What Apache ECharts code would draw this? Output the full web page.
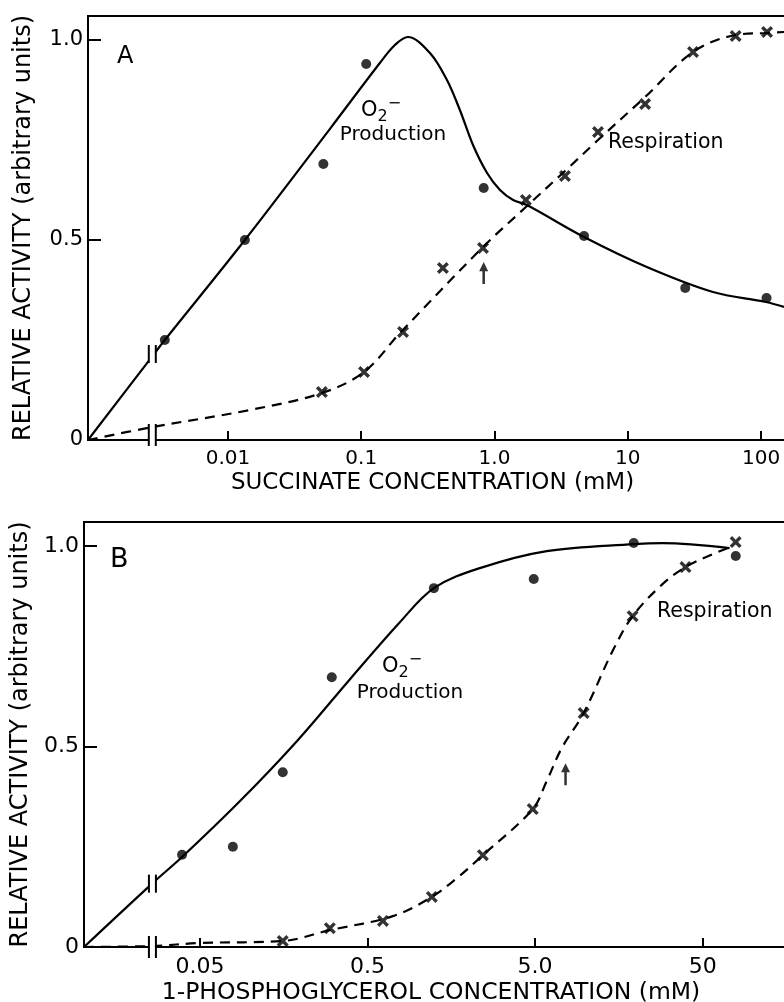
<!DOCTYPE html>
<html><head><meta charset="utf-8">
<script src="https://cdn.jsdelivr.net/npm/echarts@6/dist/echarts.min.js"></script>
<style>html,body{margin:0;padding:0;background:#fff}#c{width:784px;height:1002px}</style>
</head><body><div id="c"></div>
<script>
// ---------- Panel A: succinate (concentration in mM, activity relative) ----------
const xTicksA = [0.01, 0.1, 1, 10, 100];
const xTickLabelsA = ['0.01', '0.1', '1.0', '10', '100'];
const yTicks = [0, 0.5, 1.0];
const yTickLabels = ['0', '0.5', '1.0'];

const o2DotsA = [[0.00336,0.25],[0.0134,0.50],[0.052,0.69],[0.109,0.94],[0.83,0.63],[4.7,0.51],[27,0.38],[110,0.355]];
const o2CurveA = [[0,0],[0.00273,0.211],[0.00336,0.25],[0.0134,0.5],[0.0583,0.778],[0.138,0.9425],[0.179,0.9875],[0.224,1.0075],[0.328,0.9675],[0.44,0.90],[0.55,0.825],[0.69,0.7375],[0.88,0.6675],[1.10,0.625],[1.38,0.60],[1.75,0.5875],[4.7,0.5075],[13.9,0.4325],[43.6,0.37],[109,0.345],[149,0.3325]];
const respMarksA = [[0.0507,0.12],[0.105,0.17],[0.206,0.27],[0.41,0.43],[0.82,0.48],[1.72,0.60],[3.38,0.66],[5.98,0.77],[13.5,0.84],[30.9,0.97],[64.5,1.01],[111,1.02]];
const respCurveA = [[0,0],[0.00273,0.0325],[0.0146,0.075],[0.0507,0.1175],[0.105,0.17],[0.1955,0.2675],[0.82,0.4825],[1.72,0.5825],[3.38,0.6725],[5.98,0.75],[13.5,0.8575],[30.9,0.97],[64.5,1.0125],[111,1.0175],[149,1.02]];
const arrowsA = [[0.83,0.4175]];
const breaksA = [[0.00273,0.215],[0.00273,0.0125]];

// ---------- Panel B: 1-phosphoglycerol ----------
const xTicksB = [0.05, 0.5, 5, 50];
const xTickLabelsB = ['0.05', '0.5', '5.0', '50'];

const o2DotsB = [[0.0391,0.23],[0.0786,0.25],[0.156,0.436],[0.306,0.673],[1.245,0.895],[4.91,0.918],[19.4,1.0075],[78.8,0.975]];
const o2CurveB = [[0,0],[0.0262,0.16],[0.0391,0.2244],[0.0867,0.364],[0.19,0.514],[0.393,0.668],[0.78,0.81],[1.245,0.895],[2.34,0.945],[5.87,0.9875],[19.4,1.005],[28.8,1.0075],[72.4,0.995]];
const respMarksB = [[0.156,0.015],[0.298,0.047],[0.618,0.065],[1.21,0.125],[2.44,0.229],[4.84,0.344],[9.75,0.5835],[19.1,0.825],[39.5,0.9475],[78.7,1.01]];
const respCurveB = [[0,0],[0.0262,0.0025],[0.05,0.01],[0.156,0.015],[0.298,0.042],[0.708,0.077],[1.21,0.125],[1.71,0.172],[2.44,0.229],[4.84,0.344],[5.87,0.414],[7.21,0.496],[9.75,0.5835],[14.5,0.738],[19.1,0.825],[28.8,0.905],[39.5,0.9475],[57.4,0.98],[76,1.0]];
const arrowsB = [[7.6,0.431]];
const breaksB = [[0.0262,0.158],[0.0262,0.0]];

const yName = 'RELATIVE ACTIVITY (arbitrary units)';
const xNameA = 'SUCCINATE CONCENTRATION (mM)';
const xNameB = '1-PHOSPHOGLYCEROL CONCENTRATION (mM)';
const prodLabel = 'Production';
const respLabel = 'Respiration';

// ---------- layout ----------
const XMIN_A = -3.05, XMAX_A = 2.3, XMIN_B = -1.993, XMAX_B = 2.28;
const FONT = 'DejaVu Sans';
const XMARK = 'path://M0,2L2,0L5,3L8,0L10,2L7,5L10,8L8,10L5,7L2,10L0,8L3,5Z';
const ARROW = 'path://M5,0L10,10L6.4,10L6.4,24L3.6,24L3.6,10L0,10Z';

function lg(c, xmin) { return c === 0 ? xmin : Math.log10(c); }
const toA = arr => arr.map(d => [lg(d[0], XMIN_A), d[1]]);
const toB = arr => arr.map(d => [lg(d[0], XMIN_B), d[1]]);

function makeX(gi, min, max, ticks, labels, fs, name, nfs, gap, pad) {
  const vals = ticks.map(Math.log10);
  return {
    type: 'value', gridIndex: gi, min: min, max: max,
    axisLine: { onZero: false, lineStyle: { color: '#000', width: 2 } },
    axisTick: { inside: true, length: 9, lineStyle: { color: '#000', width: 2 }, customValues: vals },
    axisLabel: { customValues: vals, color: '#000', fontFamily: FONT, fontSize: fs, margin: 9,
      formatter: v => { const i = vals.findIndex(t => Math.abs(t - v) < 1e-6); return i >= 0 ? labels[i] : ''; } },
    splitLine: { show: false },
    name: name, nameLocation: 'middle', nameGap: gap,
    nameTextStyle: { color: '#000', fontFamily: FONT, fontSize: nfs, padding: pad }
  };
}
function makeY(gi, fs, gap) {
  return {
    type: 'value', gridIndex: gi, min: 0, max: 1.06,
    axisLine: { show: true, onZero: false, lineStyle: { color: '#000', width: 2 } },
    axisTick: { show: true, inside: true, length: 13, lineStyle: { color: '#000', width: 2 }, customValues: yTicks },
    axisLabel: { customValues: yTicks, color: '#000', fontFamily: FONT, fontSize: fs, margin: 5,
      formatter: v => { const i = yTicks.findIndex(t => Math.abs(t - v) < 1e-6); return i >= 0 ? yTickLabels[i] : ''; } },
    splitLine: { show: false },
    name: yName, nameLocation: 'middle', nameGap: gap,
    nameTextStyle: { color: '#000', fontFamily: FONT, fontSize: 24 }
  };
}
function breakRender(params, api) {
  const p = api.coord([api.value(0), api.value(1)]);
  const h = params.dataIndex === 0 ? 18 : 22;
  return { type: 'group', children: [
    { type: 'rect', shape: { x: p[0] - 4, y: p[1] - h / 2, width: 7, height: h }, style: { fill: '#fff' } },
    { type: 'line', shape: { x1: p[0] - 4, y1: p[1] - h / 2, x2: p[0] - 4, y2: p[1] + h / 2 }, style: { stroke: '#000', lineWidth: 2 } },
    { type: 'line', shape: { x1: p[0] + 3, y1: p[1] - h / 2, x2: p[0] + 3, y2: p[1] + h / 2 }, style: { stroke: '#000', lineWidth: 2 } }
  ] };
}
function panelSeries(ai, o2c, rc, o2d, rm, ar, br) {
  return [
    { type: 'line', xAxisIndex: ai, yAxisIndex: ai, data: o2c, smooth: 0.35, showSymbol: false, silent: true,
      lineStyle: { color: '#000', width: 2.2 } },
    { type: 'line', xAxisIndex: ai, yAxisIndex: ai, data: rc, smooth: 0.35, showSymbol: false, silent: true,
      lineStyle: { color: '#000', width: 2.2, type: [10, 7] } },
    { type: 'custom', xAxisIndex: ai, yAxisIndex: ai, data: br, renderItem: breakRender, z: 5, silent: true },
    { type: 'scatter', xAxisIndex: ai, yAxisIndex: ai, data: o2d, symbol: 'circle', symbolSize: 10, z: 6,
      itemStyle: { color: '#000' } },
    { type: 'scatter', xAxisIndex: ai, yAxisIndex: ai, data: rm, symbol: XMARK, symbolSize: 12, z: 6,
      itemStyle: { color: '#000' } },
    { type: 'scatter', xAxisIndex: ai, yAxisIndex: ai, data: ar, symbol: ARROW, symbolSize: [9, 22], z: 6,
      itemStyle: { color: '#000' } }
  ];
}
function txt(x, y, text, size, align) {
  return { type: 'text', x: x, y: y, silent: true,
    style: { text: text, fill: '#000', font: size + 'px "' + FONT + '"', align: align || 'left', verticalAlign: 'middle',
      textAlign: align || 'left', textVerticalAlign: 'middle' } };
}
function o2txt(x, y) {
  return { type: 'text', x: x, y: y, silent: true,
    style: { text: '{o|O}{s|2}{m|\u2212}', fill: '#000', align: 'left', verticalAlign: 'middle',
      rich: {
        o: { fontFamily: FONT, fontSize: 21, fill: '#000' },
        s: { fontFamily: FONT, fontSize: 16, fill: '#000', padding: [12, 0, 0, 0] },
        m: { fontFamily: FONT, fontSize: 16, fill: '#000', padding: [0, 0, 14, 0] }
      } } };
}

const chart = echarts.init(document.getElementById('c'), null, { renderer: 'canvas' });
chart.setOption({
  animation: false,
  backgroundColor: '#fff',
  grid: [
    { left: 88, top: 16, width: 713, height: 424, show: true, borderColor: '#000', borderWidth: 2, outerBoundsMode: 'none', containLabel: false },
    { left: 84, top: 522, width: 716, height: 425, show: true, borderColor: '#000', borderWidth: 2, outerBoundsMode: 'none', containLabel: false }
  ],
  xAxis: [
    makeX(0, XMIN_A, XMAX_A, xTicksA, xTickLabelsA, 20, xNameA, 23, 32, [0, 24, 0, 0]),
    makeX(1, XMIN_B, XMAX_B, xTicksB, xTickLabelsB, 22, xNameB, 23.5, 34, [0, 22, 0, 0])
  ],
  yAxis: [makeY(0, 21, 52), makeY(1, 22, 48)],
  series: [].concat(
    panelSeries(0, toA(o2CurveA), toA(respCurveA), toA(o2DotsA), toA(respMarksA), toA(arrowsA), toA(breaksA)),
    panelSeries(1, toB(o2CurveB), toB(respCurveB), toB(o2DotsB), toB(respMarksB), toB(arrowsB), toB(breaksB))
  ),
  graphic: [
    txt(117, 57, 'A', 24),
    txt(110, 560, 'B', 27),
    o2txt(361, 111),
    txt(393, 135, prodLabel, 20, 'center'),
    txt(608, 143, respLabel, 20.5),
    o2txt(382, 667),
    txt(410, 693, prodLabel, 20, 'center'),
    txt(657, 612, respLabel, 20.5)
  ]
});
</script></body></html>
